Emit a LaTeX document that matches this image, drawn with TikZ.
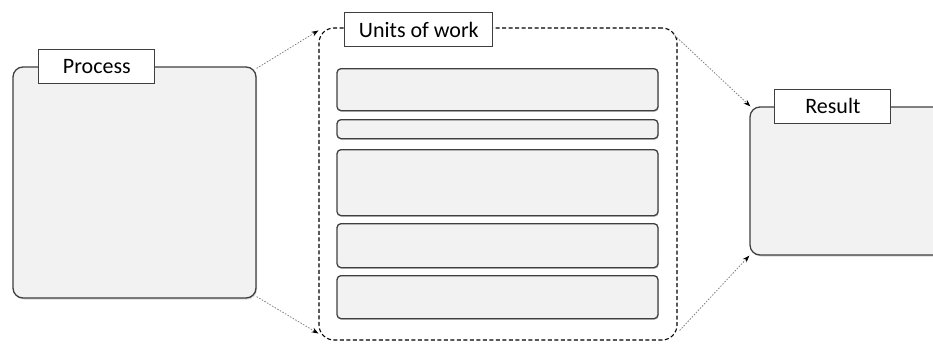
\documentclass[tikz,border=0pt]{standalone}
\usepackage{fontspec}
\setmainfont{Carlito}
\usetikzlibrary{positioning,arrows.meta,shadows}
\definecolor{boxfill}{HTML}{F2F2F2}
\definecolor{boxline}{HTML}{3F3F3F}
\tikzset{
  panel/.style={
    rectangle, rounded corners=10pt,
    draw=boxline, line width=1.3pt, fill=boxfill,
    drop shadow={shadow xshift=1pt, shadow yshift=-1.5pt, opacity=.3}
  },
  unitbox/.style={
    rectangle, rounded corners=4pt,
    draw=boxline, line width=1.3pt, fill=boxfill,
    minimum width=321pt, anchor=north,
    drop shadow={shadow xshift=.8pt, shadow yshift=-1.2pt, opacity=.3}
  },
  workbox/.style={
    rectangle, rounded corners=15pt,
    draw=black, line width=1.1pt, dash pattern=on 4pt off 2.5pt
  },
  tag/.style={
    rectangle, draw=boxline, line width=1pt, fill=white,
    minimum width=116pt, minimum height=34pt, inner xsep=14pt,
    font=\fontsize{22pt}{26pt}\selectfont, anchor=west
  },
  link/.style={
    draw=gray, line width=.8pt, dash pattern=on 1.5pt off 1.5pt,
    -{Stealth[length=7pt,width=5pt,color=black]}
  }
}
\begin{document}
\begin{tikzpicture}[x=1pt,y=-1pt]
\useasboundingbox (0,0) rectangle (933,343);

% boxes
\node[panel, minimum width=243pt, minimum height=231pt] (process) at (134.5,182.5) {};
\node[workbox, minimum width=358pt, minimum height=312pt] (units) at (498,184) {};
\node[panel, minimum width=250pt, minimum height=148pt] (result) at (875,181) {};

% units of work
\foreach \i/\top/\h in {1/68/42, 2/119/19, 3/149/66, 4/223/44, 5/275/43}
  \node[unitbox, minimum height=\h pt] (unit\i) at (497.5,\top) {};

% labels
\node[tag] (proclabel) at ([xshift=26pt]process.north west) {Process};
\node[tag] (unitslabel) at ([xshift=26pt,yshift=-2.5pt]units.north west) {Units of work};
\node[tag] (resultlabel) at ([xshift=25pt]result.north west) {Result};

% connectors
\draw[link] ([yshift=-2pt]process.north east) -- ([yshift=-3pt]units.north west);
\draw[link] ([yshift=2pt]process.south east) -- ([yshift=7pt]units.south west);
\draw[link] ([xshift=-5pt,yshift=-6pt]units.north east) -- ([xshift=1pt]result.north west);
\draw[link] ([xshift=2pt,yshift=10pt]units.south east) -- (result.south west);
\end{tikzpicture}
\end{document}
